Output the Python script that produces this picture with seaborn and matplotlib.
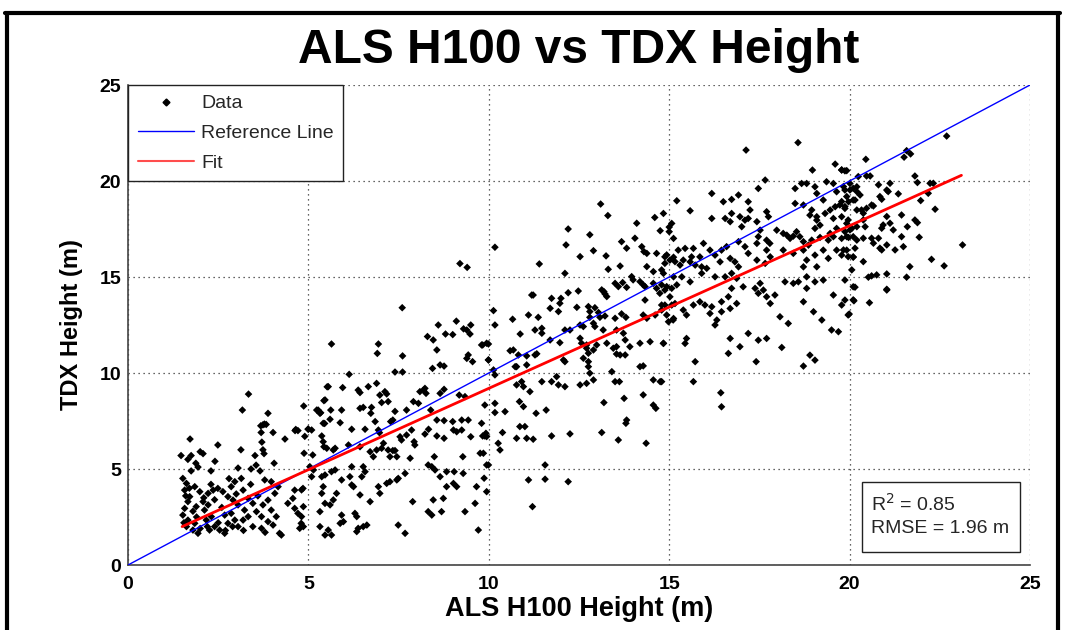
import numpy as np
import pandas as pd
import matplotlib
matplotlib.use("Agg")
import matplotlib.pyplot as plt
from matplotlib.lines import Line2D
from matplotlib.patches import Rectangle
import seaborn as sns

# ---------------- data ----------------
# points with ALS H100 < 5 m  (als, tdx)
pts_low = [
    (3.74,7.3),(3.78,7.34),(1.72,6.56),(3.69,6.9),(4.02,6.9),(3.71,6.4),(4.35,6.56),(4.63,7.0),(4.71,7.0),(4.9,6.7),
    (2.49,6.25),(1.47,5.7),(1.75,5.7),(2.0,5.9),(2.08,5.8),(1.66,5.5),(1.88,5.3),(1.94,5.1),(1.75,4.9),(3.13,6.0),
    (2.41,5.4),(2.3,4.9),(3.05,5.05),(3.52,5.7),(3.55,5.2),(3.74,6.0),(3.77,5.8),(3.66,4.9),(3.41,5.0),(4.05,5.3),
    (1.52,4.51),(1.62,4.25),(1.57,3.9),(1.71,3.56),(1.66,3.3),(1.57,2.95),(1.52,2.6),(1.66,2.34),(1.85,2.17),(1.62,2.0),
    (1.8,1.82),(1.94,1.65),(1.85,4.08),(1.99,3.82),(2.08,3.3),(1.89,3.04),(2.12,2.86),(2.22,3.13),(2.31,2.52),(2.17,2.34),
    (2.4,2.0),(2.26,1.82),(2.54,1.82),(2.68,1.65),(2.77,2.17),(2.68,2.6),(2.86,2.69),(2.96,2.34),(3.05,2.0),(3.19,2.34),
    (3.33,2.52),(3.23,2.86),(3.05,3.13),(2.91,3.38),(2.77,3.56),(2.63,3.82),(2.49,3.99),(2.36,3.9),(2.22,3.73),(2.96,4.34),
    (3.14,4.51),(2.86,4.08),(3.19,3.9),(3.33,3.47),(3.46,3.21),(3.56,2.78),(3.7,2.52),(3.7,1.91),(3.46,2.0),(3.88,2.26),
    (3.79,4.43),(3.97,4.34),(4.16,4.08),(4.07,3.73),(3.88,3.38),(3.74,3.13),(3.97,2.86),(4.11,2.52),(4.02,2.08),(4.25,1.56),
    (4.2,1.65),(4.43,3.21),(4.57,3.47),(4.62,2.95),(4.71,2.69),(4.8,2.17),(4.76,1.91),(4.62,3.9),(4.85,3.99),
    (3.34,8.9),(3.17,8.07),(3.88,7.9),(3.68,7.25),(3.83,7.32),(4.65,7.06),(4.99,7.08),(4.87,8.28),
    (1.55,2.2),(1.6,3.6),(1.7,4.0),(1.8,2.8),(1.9,2.5),(2.0,1.9),(2.1,3.5),(2.2,2.0),(2.3,4.2),(2.4,3.4),
    (2.5,2.2),(2.6,3.0),(2.7,1.8),(2.8,4.5),(2.9,2.0),(3.0,3.7),(3.2,1.8),(3.4,4.2),(3.6,3.6),(3.8,1.7),
]

# points with ALS H100 between 5 and 10 m
pts_mid_low = [
    (5.27,8.07),(5.34,7.93),(5.43,8.56),(5.52,9.28),(5.45,7.37),
    (5.64,11.51),(6.94,11.51),(6.91,11.02),(7.61,10.89),(8.46,11.72),(8.56,11.2),(8.8,12.03),(9.39,12.24),(9.48,12.03),
    (9.83,11.46),(9.99,11.51),(9.43,10.94),(9.39,10.76),(9.55,10.59),(9.99,10.68),(8.65,10.42),(8.76,10.36),(8.44,10.24),
    (7.4,10.05),(7.61,10.05),(6.13,9.93),(5.55,9.29),(5.95,9.24),(6.38,9.11),(6.43,8.98),(6.66,9.29),(6.89,9.46),
    (7.12,9.03),(7.17,8.91),(7.03,8.46),(7.21,8.51),(6.98,8.85),(8.09,9.03),(8.19,9.11),(8.23,9.2),(8.26,8.94),(8.65,8.94),
    (8.76,9.15),(9.18,8.85),(9.34,8.77),(7.91,8.51),(8.05,8.42),(5.46,8.6),(5.23,8.07),(5.32,7.9),(5.62,8.07),(5.92,8.07),
    (6.43,8.16),(6.52,8.21),(6.75,8.21),(6.73,7.9),(7.4,8.0),(7.72,8.07),(7.34,7.55),(7.28,7.47),(8.39,8.07),(8.56,7.55),
    (8.76,7.52),(9.0,7.47),(9.25,7.55),(9.43,7.55),(5.41,7.38),(5.6,7.59),(5.88,7.41),(6.2,7.07),(6.57,7.07),(6.85,7.47),
    (6.94,7.03),(6.97,6.89),(5.0,7.07),(5.09,7.03),(7.54,6.68),(7.58,6.51),(7.72,6.77),(7.93,6.42),(7.86,7.03),(7.95,6.25),
    (8.23,6.82),(8.33,7.07),(8.56,6.72),(8.76,6.6),(9.02,7.03),(9.11,6.94),(9.25,7.03),(9.5,6.68),(9.83,6.72),(9.92,6.86),
    (5.37,6.72),(5.41,6.42),(5.43,6.16),(5.51,6.08),(5.69,5.99),(5.74,6.08),(4.88,5.82),(6.11,6.25),(6.43,6.16),
    (6.71,5.9),(6.89,5.99),(6.8,5.64),(7.03,6.08),(7.08,6.34),(7.21,5.99),(7.34,5.96),(7.26,5.64),(7.45,5.64),(7.4,5.96),
    (7.82,5.56),(8.49,5.64),(9.28,5.64),(9.76,5.82),(9.99,5.21),(5.12,5.73),(5.04,5.12),(5.14,4.95),(5.09,4.6),(5.37,4.6),
    (5.46,4.69),(5.64,4.86),(5.74,4.95),(5.41,4.08),(5.37,3.73),(5.46,3.21),(5.6,3.13),(5.69,3.39),(5.78,3.73),(5.92,4.43),
    (6.15,4.6),(6.2,4.17),(6.25,4.08),(6.43,3.65),(6.52,5.12),(6.57,4.86),(6.48,4.6),(6.2,5.12),(6.94,4.08),(6.98,3.73),
    (7.17,4.25),(7.26,4.34),(7.49,4.51),(7.45,4.43),(7.68,4.77),(5.92,2.6),(5.97,2.26),(5.88,2.17),(6.29,2.69),(6.34,2.52),
    (6.38,1.91),(6.52,2.0),(6.34,1.74),(6.62,2.08),(5.32,2.78),(5.32,2.0),(5.55,1.82),(5.46,1.56),(5.64,1.56),
    (6.71,3.3),(7.49,2.08),(7.68,1.65),(7.89,3.3),(8.32,2.78),(8.42,2.6),(8.46,3.39),(8.69,2.78),(8.74,3.47),(8.83,4.08),
    (9.02,4.25),(9.11,4.08),(9.04,4.86),(9.29,4.77),(9.62,3.21),(9.34,2.78),(9.71,1.82),(9.66,4.08),(9.94,3.82),(8.32,5.21),
    (8.42,5.12),(8.51,4.95),(8.65,4.6),(8.83,4.86),(4.81,3.91),(4.86,3.04),(4.81,2.52),(4.86,2.0),
    (8.6,12.5),(9.1,12.7),(9.3,12.3),(9.5,12.5),(7.6,13.4),(9.2,15.7),(9.4,15.5),(8.3,11.9),(9.0,12.0),
]

# points with ALS H100 between 10 and 15 m
pts_mid_high = [
    (10.17,16.55),(12.14,16.67),(11.4,15.68),(12.11,15.19),(12.53,16.06),(12.9,16.37),(13.25,16.1),(13.31,15.4),(13.64,15.57),
    (13.68,16.84),(13.82,16.5),(14.05,17.02),(14.24,16.58),(14.3,16.32),(14.38,16.23),(14.65,16.23),(14.93,16.15),(15.0,17.36),
    (15.16,15.8),(15.12,16.03),(14.38,15.54),(14.56,15.28),(14.79,15.37),(14.88,15.71),(13.5,14.67),(13.59,14.5),(13.71,14.71),
    (13.82,14.46),(14.0,14.85),(13.96,15.02),(14.19,14.76),(14.28,14.59),(14.33,14.5),(14.56,14.67),(14.65,14.41),(14.74,14.15),
    (14.79,14.59),(14.93,14.5),(15.07,14.41),(15.21,14.59),(13.13,14.33),(13.22,14.12),(13.27,13.98),(13.19,14.24),
    (11.19,14.06),(11.23,14.06),(12.2,14.18),(12.48,14.27),(12.0,13.89),(11.97,13.63),(11.74,13.89),(11.7,13.37),(11.93,13.2),
    (11.1,13.02),(11.37,12.9),(10.66,12.8),(12.44,13.42),(12.76,13.46),(12.94,13.4),(12.8,13.2),(13.04,13.15),(13.08,12.9),
    (13.22,12.97),(13.5,12.85),(13.68,13.08),(13.8,12.9),(14.33,13.8),(14.28,13.02),(14.38,12.85),(14.61,13.02),(14.79,13.28),
    (14.88,13.54),(15.07,13.54),(15.11,12.76),(14.93,13.02),(10.13,13.25),(10.17,12.5),(10.87,12.03),(11.28,12.24),(11.47,12.07),
    (11.47,12.33),(12.11,12.24),(12.25,12.24),(12.53,12.5),(12.62,12.42),(12.9,12.59),(12.8,12.9),(12.94,12.42),(13.17,12.24),
    (13.54,12.24),(13.73,12.07),(13.78,11.72),(9.8,11.46),(9.94,11.55),(10.59,11.16),(10.68,11.2),(10.82,10.94),(11.05,10.89),
    (11.28,10.94),(11.7,11.72),(11.97,11.58),(12.07,10.68),(12.11,10.59),(12.53,11.81),(12.57,11.55),(12.71,11.46),(12.99,11.46),
    (12.9,11.2),(13.27,11.55),(13.45,11.29),(13.54,11.37),(13.54,10.99),(13.64,10.94),(13.78,10.94),(13.91,11.37),(14.19,11.55),
    (14.47,11.63),(14.84,11.55),(9.99,10.68),(10.13,10.16),(10.17,9.9),(10.73,10.33),(10.77,10.33),(11.05,10.42),(11.33,11.0),
    (10.77,9.38),(10.91,9.55),(10.96,9.29),(11.14,9.03),(11.47,9.55),(11.74,9.55),(11.88,9.81),(11.93,9.38),(12.11,9.29),
    (12.53,9.38),(12.71,9.46),(12.76,10.59),(12.76,10.33),(12.8,9.99),(12.9,9.64),(12.71,11.29),(12.76,11.03),(12.62,10.77),
    (13.41,10.07),(13.5,9.55),(13.62,9.55),(14.19,10.33),(14.28,10.37),(14.56,9.64),(14.79,9.55),(14.28,8.86),(14.56,8.33),
    (14.63,8.16),(13.75,8.68),(13.82,7.55),(13.8,7.38),(13.59,6.51),(13.13,6.9),(14.36,6.34),(9.89,8.33),(10.17,8.42),
    (10.17,7.94),(10.45,7.99),(10.85,8.51),(10.96,8.25),(11.31,7.9),(11.59,8.07),(10.86,7.21),(11.0,7.21),(10.77,6.6),
    (11.05,6.6),(11.23,6.55),(11.74,6.72),(12.25,6.83),(13.19,8.46),(9.8,7.38),(9.89,6.72),(9.94,6.69),(10.26,6.34),
    (10.31,5.99),(10.38,6.9),(9.85,5.82),(9.94,5.21),(9.87,4.52),(11.1,4.43),(11.56,4.47),(11.56,5.21),(12.2,4.34),(11.21,3.04),
    (13.1,18.8),(13.3,18.2),(12.2,17.5),(14.1,17.8),(14.6,18.1),(15.0,17.6),(12.8,17.2),
]

# points with ALS H100 between 15 and 20 m
pts_high = [
    (17.13,21.61),(19.6,20.88),(19.78,20.57),(19.87,20.53),(18.97,20.57),(18.57,22.0),
    (17.66,20.05),(17.47,19.61),(16.18,19.35),(16.5,18.92),(16.73,19.04),(16.92,19.27),(17.19,18.92),(15.21,18.97),(15.58,18.45),
    (14.84,18.31),(18.49,19.61),(18.67,19.87),(18.81,19.87),(19.04,19.7),(19.36,19.96),(19.55,19.87),(19.64,19.44),(19.87,19.53),
    (20.01,19.87),(20.2,19.7),(19.09,19.35),(19.27,19.01),(16.18,18.05),(16.55,18.05),(16.73,18.31),(16.69,17.88),(16.96,18.14),
    (17.1,17.96),(17.19,18.05),(17.43,17.88),(17.24,18.49),(17.01,17.62),(17.7,18.4),(17.75,18.14),(17.52,17.44),(17.47,17.1),
    (18.49,18.83),(18.72,18.75),(18.95,18.49),(18.9,18.22),(19.09,18.14),(19.32,18.31),(19.46,18.49),(19.6,18.66),(19.73,18.75),
    (19.87,18.57),(19.97,18.92),(20.1,19.01),(20.2,18.49),(19.55,18.05),(19.78,18.14),(19.92,17.79),(20.2,17.62),(20.06,17.53),
    (19.87,17.36),(19.64,17.53),(19.46,17.27),(19.18,17.7),(19.04,17.53),(19.09,17.96),(17.98,17.44),(18.16,17.27),(18.26,17.18),
    (18.35,17.01),(18.44,17.13),(18.53,17.36),(18.62,17.1),(18.72,16.84),(18.86,16.66),(18.95,16.92),(19.18,17.06),(19.41,16.92),
    (19.55,17.1),(19.78,17.01),(19.97,17.06),(20.2,16.92),(17.7,16.92),(17.79,16.75),(17.7,16.4),(17.43,16.75),(17.1,16.58),
    (16.92,16.84),(17.19,16.23),(17.43,15.88),(17.66,15.71),(17.8,16.05),(18.16,16.4),(18.44,16.23),(18.72,16.4),(18.81,15.88),
    (19.04,16.14),(19.27,16.4),(19.41,15.97),(19.64,16.4),(19.78,16.14),(19.92,16.4),(20.1,16.05),(19.09,15.53),(18.72,15.53),
    (15.25,16.4),(15.44,16.49),(15.67,16.49),(15.62,16.05),(15.85,16.05),(15.95,16.75),(16.13,16.4),(16.27,16.14),(16.45,16.4),
    (16.59,16.58),(16.69,15.97),(16.82,15.79),(16.41,15.79),(15.9,15.53),(15.72,15.62),(15.58,15.79),(15.39,15.88),(15.3,15.62),
    (15.02,15.88),(14.88,16.05),(15.07,17.79),(14.75,17.41),(15.12,17.01),(14.84,15.19),(15.12,15.01),(15.35,15.01),(15.58,14.75),
    (15.9,15.19),(16.04,15.45),(16.27,15.01),(16.55,15.01),(16.73,15.19),(16.92,15.53),(16.87,14.93),(17.05,14.49),(17.38,14.41),
    (17.47,14.15),(17.61,14.32),(17.52,14.67),(17.7,13.97),(17.8,13.62),(17.93,14.06),(18.21,14.75),(18.44,14.67),(18.58,14.75),
    (18.81,15.01),(19.04,14.75),(19.27,14.84),(19.55,14.06),(19.87,13.8),(20.1,14.49),(18.81,14.41),(14.88,14.32),(15.02,13.97),
    (15.16,13.62),(15.39,13.28),(15.12,12.84),(15.48,13.02),(15.67,13.54),(15.85,13.71),(15.99,13.54),(16.18,13.45),(16.13,13.1),
    (16.45,13.19),(16.69,13.36),(16.64,13.97),(16.73,14.41),(16.45,13.71),(16.87,13.62),(16.32,12.76),(16.27,12.5),(16.69,11.8),
    (17.19,12.06),(17.47,11.71),(17.7,11.8),(16.96,11.37),(16.64,11.02),(17.41,10.59),(18.07,12.93),(18.3,12.58),(18.72,13.71),
    (19.0,13.19),(19.23,12.76),(19.5,12.24),(19.69,12.15),(18.12,11.33),(18.72,10.36),(18.9,10.93),(19.04,10.67),(19.96,13.02),
    (19.87,14.84),(14.84,11.54),(15.48,11.8),(15.44,11.54),(15.72,10.59),(15.67,9.55),(16.43,8.97),(16.45,8.24),(14.75,9.55),
    (14.79,13.54),(14.98,12.67),
]

# points with ALS H100 above 20 m
pts_top = [
    (22.69,22.34),(21.58,21.58),(21.69,21.41),(21.51,21.24),(20.45,21.13),(19.78,20.58),(19.92,20.54),(20.24,20.23),(20.47,20.26),
    (20.57,20.26),(21.81,20.26),(21.88,19.92),(22.23,19.88),(22.32,19.88),(20.8,19.8),(21.12,19.88),(21.03,19.53),(21.07,19.45),
    (20.84,19.19),(20.89,19.05),(21.35,19.33),(21.97,18.98),(22.18,19.36),(22.37,18.53),(19.83,19.71),(20.01,19.53),(20.1,19.62),
    (20.2,19.45),(20.15,19.01),(20.29,19.27),(19.92,19.19),(19.78,18.93),(19.87,18.67),(20.38,18.32),(20.33,18.49),(20.47,18.58),
    (20.61,18.75),(20.66,18.7),(21.03,18.15),(21.44,18.23),(21.81,17.97),(21.88,17.83),(21.6,17.62),(21.93,17.07),(21.12,17.8),
    (21.21,17.45),(20.89,17.54),(20.93,17.71),(20.38,17.97),(20.43,17.62),(19.96,17.97),(20.01,17.45),(20.1,17.1),(19.92,17.1),
    (20.38,17.02),(20.61,17.02),(20.66,16.76),(20.8,17.02),(20.84,16.5),(20.89,16.41),(21.03,16.67),(21.26,16.41),(21.49,16.58),
    (21.44,17.1),(19.83,16.41),(20.15,16.5),(19.96,16.06),(20.1,16.03),(20.38,15.8),(20.06,15.37),(20.52,14.99),(20.61,15.06),
    (20.75,15.11),(21.03,15.16),(21.58,14.99),(21.67,15.54),(22.27,15.92),(22.62,15.58),(23.13,16.67),(20.15,14.47),(21.03,14.36),
    (20.1,13.81),(19.78,13.54),(20.12,13.76),(20.55,13.66),(19.99,13.07),(21.03,14.32),
]

# reference 1:1 line and least-squares fit
ref_x = [0, 25]
ref_y = [0, 25]
fit_slope = 0.847
fit_intercept = 0.73
fit_x_range = [1.5, 23.1]

r_squared = 0.85
rmse_m = 1.96

x_ticks = [0, 5, 10, 15, 20, 25]
y_ticks = [0, 5, 10, 15, 20, 25]

title_text = "ALS H100 vs TDX Height"
x_label = "ALS H100 Height (m)"
y_label = "TDX Height (m)"

# ---------------- build tables ----------------
all_pts = pts_low + pts_mid_low + pts_mid_high + pts_high + pts_top
df = pd.DataFrame(all_pts, columns=["als", "tdx"])
ref_df = pd.DataFrame({"x": ref_x, "y": ref_y})
fit_df = pd.DataFrame({"x": fit_x_range,
                       "y": [fit_slope * v + fit_intercept for v in fit_x_range]})

# ---------------- style ----------------
sns.set_style("white")
plt.rcParams["font.family"] = ["Liberation Sans", "DejaVu Sans"]

W, H = 1080, 630
fig = plt.figure(figsize=(W / 100, H / 100), dpi=100)
fig.patch.set_facecolor("white")

ax_l, ax_r, ax_t, ax_b = 128, 1030, 85, 565
ax = fig.add_axes([ax_l / W, 1 - ax_b / H, (ax_r - ax_l) / W, (ax_b - ax_t) / H])

sns.scatterplot(data=df, x="als", y="tdx", ax=ax, marker="D", s=15,
                color="black", edgecolor="none", linewidth=0, zorder=3, legend=False)
sns.lineplot(data=ref_df, x="x", y="y", ax=ax, color="#0000ff", linewidth=1.0, zorder=4)
sns.lineplot(data=fit_df, x="x", y="y", ax=ax, color="#ff0000", linewidth=2.0, zorder=5)

ax.set_xlim(0, 25)
ax.set_ylim(0, 25)
ax.set_xticks(x_ticks)
ax.set_yticks(y_ticks)
ax.set_xticklabels([str(t) for t in x_ticks], fontsize=14, fontweight="bold", color="black")
ax.set_yticklabels([str(t) for t in y_ticks], fontsize=14, fontweight="bold", color="black")
ax.tick_params(axis="x", pad=8)
ax.tick_params(axis="y", pad=5)
ax.tick_params(direction="in", length=6, width=1, color="#444444",
               top=False, right=False)

ax.grid(True, linestyle=(0, (1, 3)), color="#333333", linewidth=0.9)
ax.set_axisbelow(True)
for s in ["top", "right"]:
    ax.spines[s].set_visible(False)
for s in ["left", "bottom"]:
    ax.spines[s].set_color("#444444")
    ax.spines[s].set_linewidth(1.2)

ax.set_xlabel(x_label, fontsize=19.5, fontweight="bold", labelpad=2, color="black")
ax.set_ylabel(y_label, fontsize=17, fontweight="bold", labelpad=12, color="black")
ax.set_title(title_text, fontsize=34.5, fontweight="bold", pad=16, color="black")

# legend
handles = [
    Line2D([], [], marker="D", markersize=3.5, color="black", linestyle="none"),
    Line2D([], [], color="#0000ff", linewidth=1.0),
    Line2D([], [], color="#ff4d4d", linewidth=1.5),
]
leg = ax.legend(handles, ["Data", "Reference Line", "Fit"], loc="upper left",
                bbox_to_anchor=(0, 1), borderaxespad=0, fontsize=14,
                handlelength=2.9, handletextpad=0.35, labelspacing=0.62,
                borderpad=0.5, fancybox=False, framealpha=1, edgecolor="#222222")
leg.get_frame().set_linewidth(1.0)

# statistics box
ax_w, ax_h = ax_r - ax_l, ax_b - ax_t
bx0, bx1, by0, by1 = 862, 1020, 552, 482
ax.add_patch(Rectangle(((bx0 - ax_l) / ax_w, (ax_b - by0) / ax_h),
                       (bx1 - bx0) / ax_w, (by0 - by1) / ax_h,
                       transform=ax.transAxes, facecolor="white",
                       edgecolor="#222222", linewidth=1.0, zorder=6))
ax.text((871 - ax_l) / ax_w, (ax_b - 511) / ax_h, f"R$^{{2}}$ = {r_squared:.2f}",
        transform=ax.transAxes, fontsize=14, va="baseline", ha="left", zorder=7)
ax.text((871 - ax_l) / ax_w, (ax_b - 533) / ax_h, f"RMSE = {rmse_m:.2f} m",
        transform=ax.transAxes, fontsize=14, va="baseline", ha="left", zorder=7)

# black figure frame
for (x0, y0, x1, y1) in [(7, 13, 7, 640), (5, 13, 1060, 13), (1058, 13, 1058, 640)]:
    fig.add_artist(Line2D([x0 / W, x1 / W], [1 - y0 / H, 1 - y1 / H],
                          transform=fig.transFigure, color="black", linewidth=3.0))

plt.rcParams["mathtext.fontset"] = "custom"
plt.rcParams["mathtext.rm"] = "Liberation Sans"
plt.rcParams["mathtext.it"] = "Liberation Sans"

fig.savefig("out.png", dpi=100)
